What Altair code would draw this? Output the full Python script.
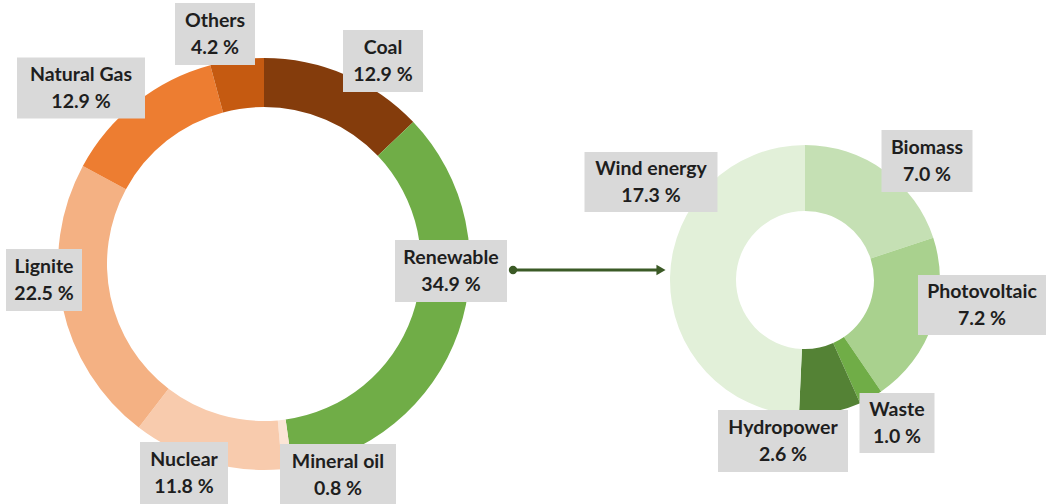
import altair as alt
import pandas as pd

# ---- data ----
main_names = ["Coal", "Renewable", "Mineral oil", "Nuclear", "Lignite", "Natural Gas", "Others"]
main_values = [12.9, 34.9, 0.8, 11.8, 22.5, 12.9, 4.2]
main_colors = ["#843C0C", "#70AD47", "#FBE5D6", "#F8CBAD", "#F4B183", "#ED7D31", "#C55A11"]

ren_names = ["Biomass", "Photovoltaic", "Waste", "Hydropower", "Wind energy"]
ren_values = [7.0, 7.2, 1.0, 2.6, 17.3]
ren_colors = ["#C5E0B4", "#A9D18E", "#70AD47", "#548235", "#E2F0D9"]

# ---- layout (pixel positions of label boxes: cx, cy, w, h) ----
label_layout = {
    "Coal": (383, 61, 80, 62),
    "Renewable": (451, 271, 112, 62),
    "Mineral oil": (338, 475, 116, 62),
    "Nuclear": (184, 473, 88, 62),
    "Lignite": (44, 280, 76, 62),
    "Natural Gas": (81, 88, 128, 61),
    "Others": (215, 34, 80, 62),
    "Biomass": (927, 161, 91, 62),
    "Photovoltaic": (982, 305, 128, 60),
    "Waste": (897, 423, 75, 60),
    "Hydropower": (783, 441, 130, 62),
    "Wind energy": (651, 182, 133, 60),
}
LEFT_C = (264, 264)
LEFT_R = (157, 206)
RIGHT_C = (805, 280)
RIGHT_R = (69, 135)
LINE_H = 27

main_df = pd.DataFrame({"name": main_names, "value": main_values,
                        "color": main_colors, "idx": range(len(main_names))})
ren_df = pd.DataFrame({"name": ren_names, "value": ren_values,
                       "color": ren_colors, "idx": range(len(ren_names))})

rows = []
for n, v in list(zip(main_names, main_values)) + list(zip(ren_names, ren_values)):
    cx, cy, w, h = label_layout[n]
    rows.append({"label": f"{n}\n{v:.1f} %", "cx": cx, "cy": cy,
                 "x1": cx - w / 2, "x2": cx + w / 2, "y1": cy - h / 2, "y2": cy + h / 2})
lab_df = pd.DataFrame(rows)

left = alt.Chart(main_df).mark_arc(innerRadius=LEFT_R[0], outerRadius=LEFT_R[1]).encode(
    theta=alt.Theta("value:Q", stack=True),
    order=alt.Order("idx:Q"),
    color=alt.Color("color:N", scale=None),
    x=alt.value(LEFT_C[0]), y=alt.value(LEFT_C[1]),
)
right = alt.Chart(ren_df).mark_arc(innerRadius=RIGHT_R[0], outerRadius=RIGHT_R[1]).encode(
    theta=alt.Theta("value:Q", stack=True),
    order=alt.Order("idx:Q"),
    color=alt.Color("color:N", scale=None),
    x=alt.value(RIGHT_C[0]), y=alt.value(RIGHT_C[1]),
)

one = pd.DataFrame({"a": [0]})
arrow_color = "#3B5A26"
arrow_line = alt.Chart(one).mark_rule(color=arrow_color, strokeWidth=3).encode(
    x=alt.value(513), x2=alt.value(658), y=alt.value(270))
arrow_dot = alt.Chart(one).mark_point(shape="circle", filled=True, size=70, color=arrow_color, opacity=1).encode(
    x=alt.value(513), y=alt.value(270))
arrow_head = alt.Chart(one).mark_point(shape="triangle-right", filled=True, size=110, color=arrow_color, opacity=1).encode(
    x=alt.value(661), y=alt.value(270))

boxes = alt.Chart(lab_df).mark_rect(color="#D9D9D9").encode(
    x=alt.X("x1:Q", scale=None), x2="x2:Q",
    y=alt.Y("y1:Q", scale=None), y2="y2:Q",
)
texts = alt.Chart(lab_df).mark_text(
    font="Lato", fontSize=19.5, fontWeight="bold", color="#1E1E1E",
    lineBreak="\n", lineHeight=LINE_H, align="center", baseline="middle",
    dy=-LINE_H / 2,
).encode(
    x=alt.X("cx:Q", scale=None), y=alt.Y("cy:Q", scale=None), text="label:N",
)

chart = alt.layer(left, right, arrow_line, arrow_dot, arrow_head, boxes, texts).resolve_scale(
    theta="independent"
).properties(
    width=1046, height=504, padding=0, autosize=alt.AutoSizeParams(type="none"),
    background="white",
).configure_view(stroke=None)

chart.save("out.html", embed_options={"renderer": "svg", "actions": False})
